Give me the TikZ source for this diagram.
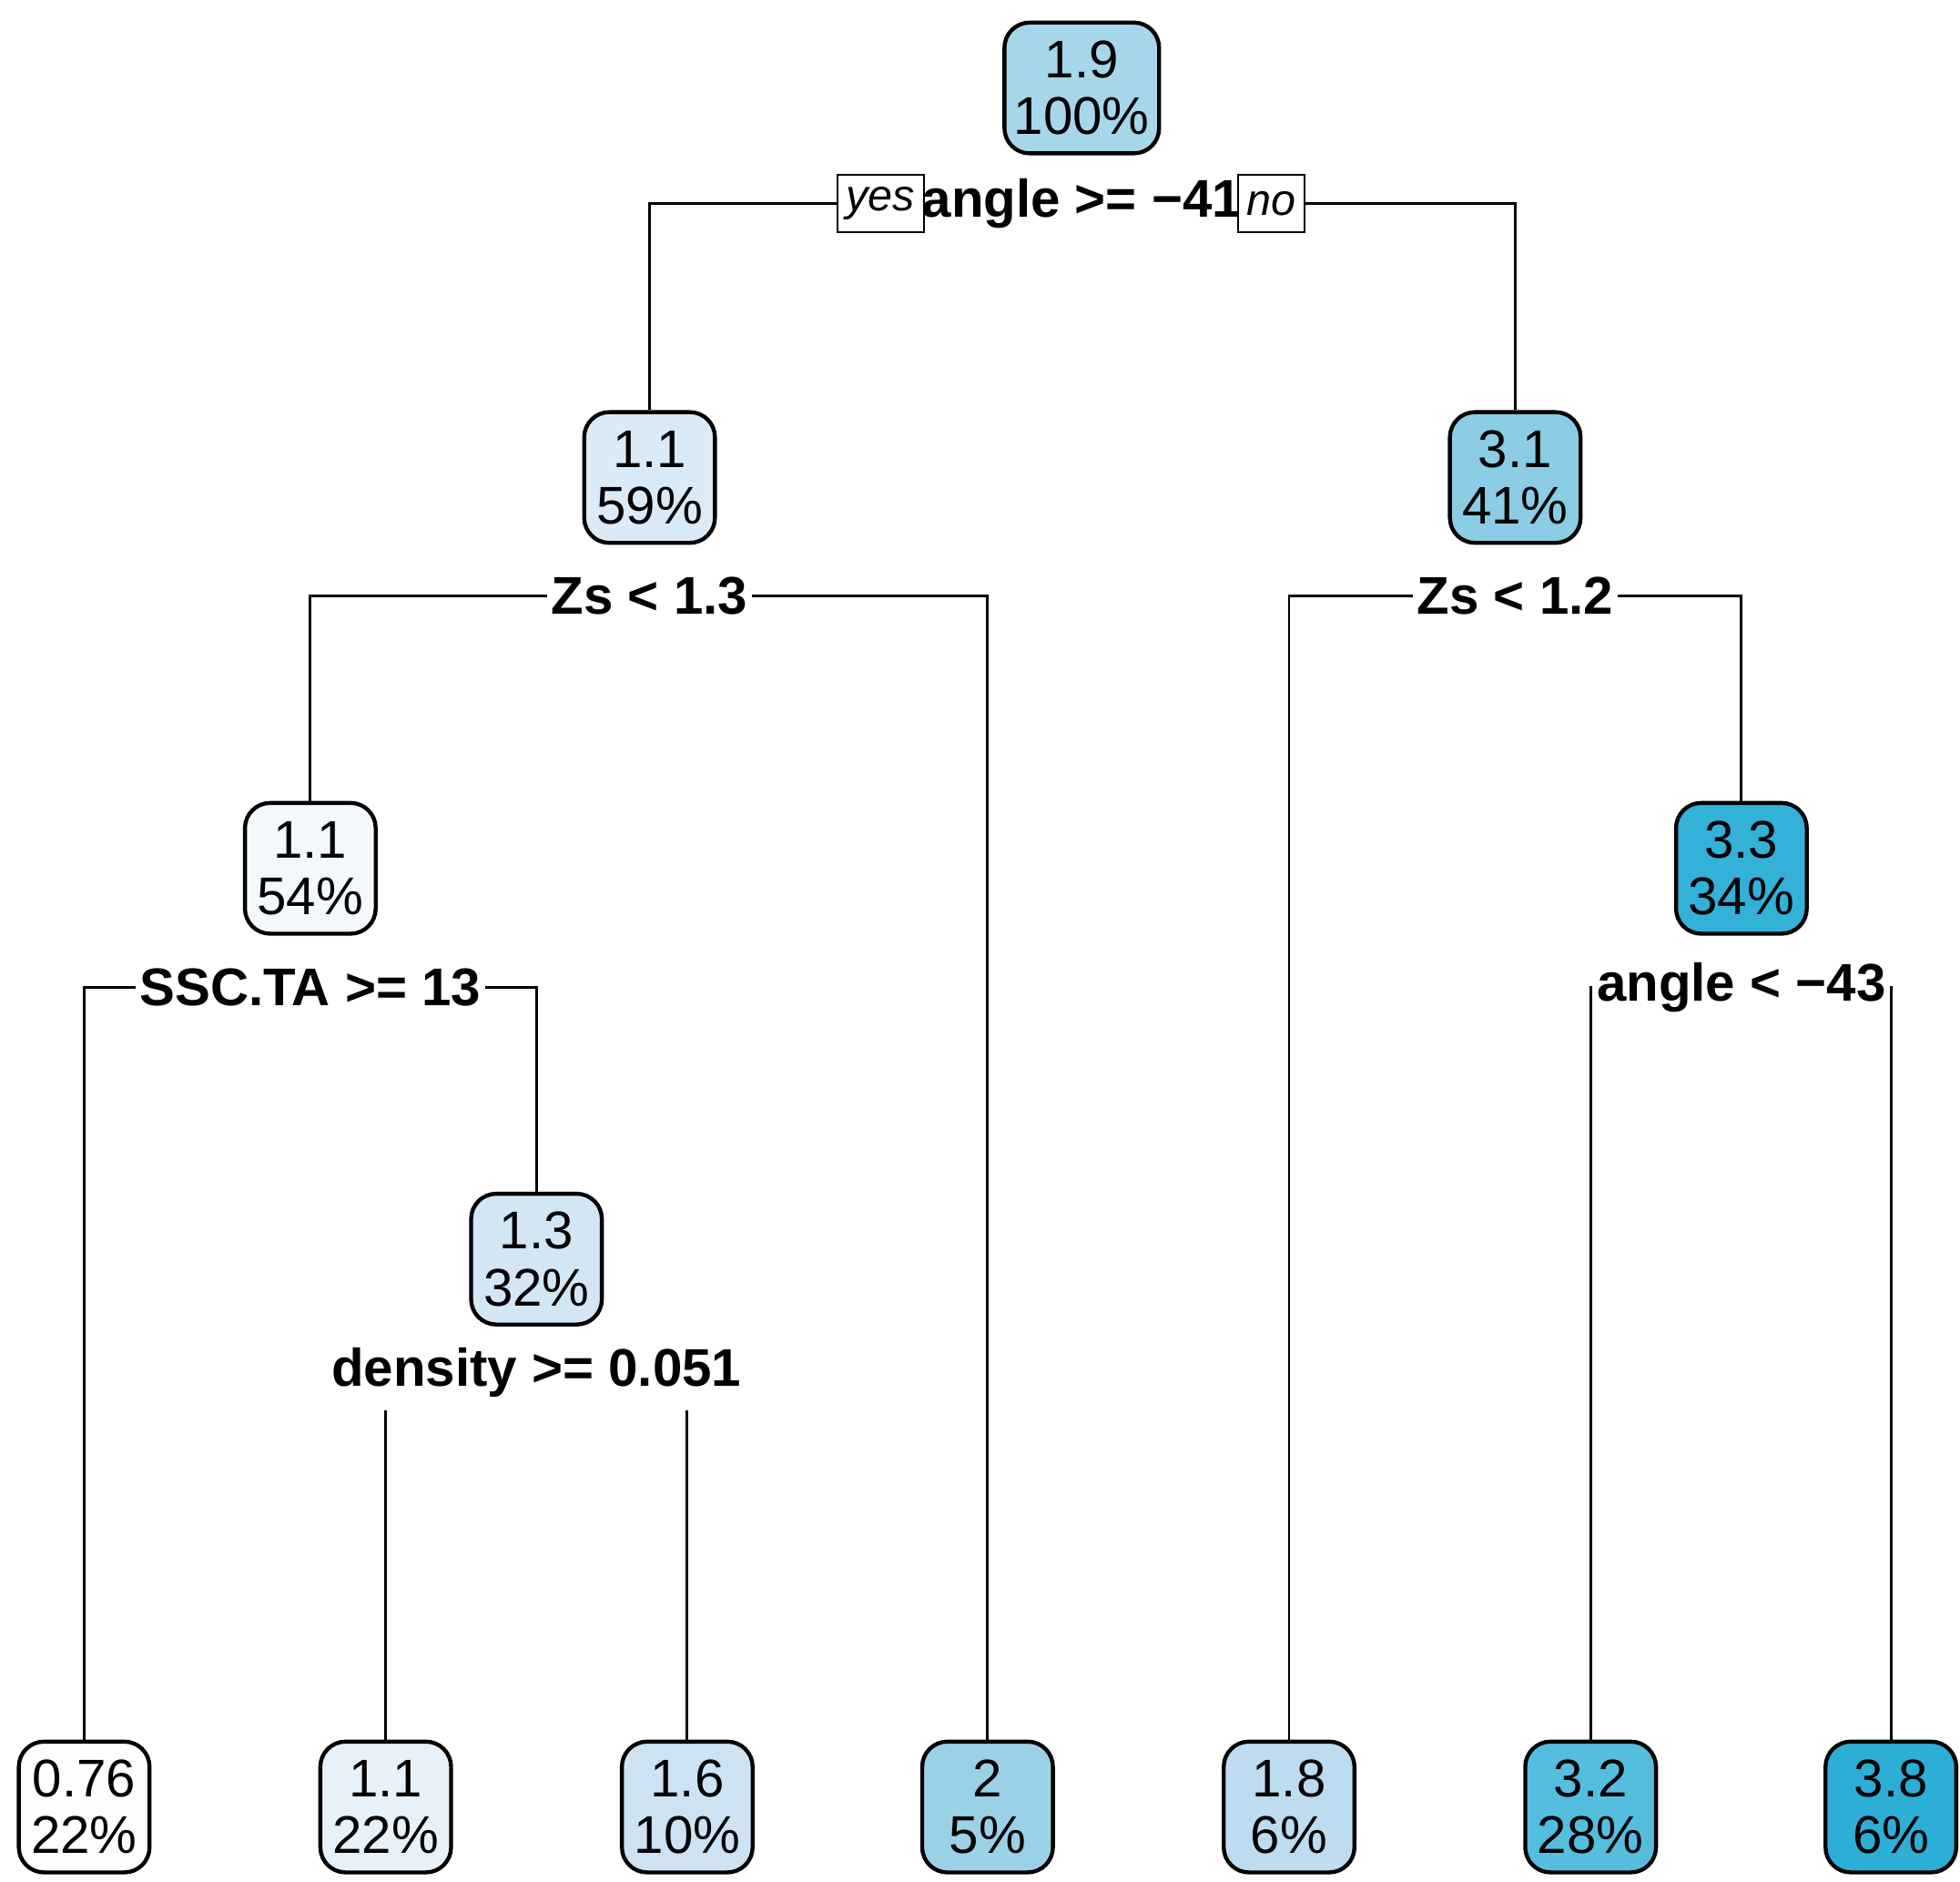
\documentclass[tikz,border=0pt]{standalone}
\usepackage{fontspec}
\setmainfont{Liberation Sans}
\definecolor{c0}{HTML}{A6D6EA}
\definecolor{c1}{HTML}{DAEAF6}
\definecolor{c2}{HTML}{8ACDE4}
\definecolor{c3}{HTML}{F3F8FD}
\definecolor{c4}{HTML}{33B1D8}
\definecolor{c5}{HTML}{D3E6F4}
\definecolor{l1}{HTML}{FBFDFE}
\definecolor{l2}{HTML}{E7F1FA}
\definecolor{l3}{HTML}{CDE3F3}
\definecolor{l4}{HTML}{9BD1E7}
\definecolor{l5}{HTML}{BEDCF0}
\definecolor{l6}{HTML}{55BEDF}
\definecolor{l7}{HTML}{2CAED6}
\begin{document}
\begin{tikzpicture}[x=0.01cm,y=-0.01cm,
  tnode/.style={draw,line width=0.9pt,rounded corners=0.2cm,minimum width=1.04cm,minimum height=1.04cm,align=center,inner sep=1pt,font=\fontsize{12}{12.8}\selectfont},
  split/.style={fill=white,inner sep=1pt,font=\fontsize{12}{14}\selectfont\bfseries},
  yn/.style={draw,fill=white,inner sep=2pt,minimum height=0.46cm,font=\fontsize{10}{12}\selectfont\itshape},
  edge/.style={line width=0.6pt}]
\useasboundingbox (0,0) rectangle (1560,1497);
\node[tnode,fill=c0,minimum width=1.23cm] (n1) at (861,70) {1.9\\100\%};
\node[tnode,fill=c1] (n2) at (517,380) {1.1\\59\%};
\node[tnode,fill=c2] (n3) at (1206,380) {3.1\\41\%};
\node[tnode,fill=c3] (n4) at (247,691) {1.1\\54\%};
\node[tnode,fill=c4] (n5) at (1386,691) {3.3\\34\%};
\node[tnode,fill=c5] (n6) at (427,1002) {1.3\\32\%};
\node[tnode,fill=l1] (a) at (67,1438) {0.76\\22\%};
\node[tnode,fill=l2] (b) at (307,1438) {1.1\\22\%};
\node[tnode,fill=l3] (c) at (547,1438) {1.6\\10\%};
\node[tnode,fill=l4] (d) at (786,1438) {2\\5\%};
\node[tnode,fill=l5] (e) at (1026,1438) {1.8\\6\%};
\node[tnode,fill=l6] (f) at (1266,1438) {3.2\\28\%};
\node[tnode,fill=l7] (g) at (1505,1438) {3.8\\6\%};
\coordinate (s1) at (861,162);
\coordinate (s2) at (517,474);
\coordinate (s3) at (1206,474);
\coordinate (s4) at (247,786);
\coordinate (s5) at (1386,786);
\coordinate (s6) at (427,1122);
\draw[edge] (n2.north) |- (s1) -| (n3.north);
\draw[edge] (a.north) |- (s4) -| (n6.north);
\draw[edge] (n4.north) |- (s2) -| (d.north);
\draw[edge] (e.north) |- (s3) -| (n5.north);
\draw[edge] (f.north) |- (s5) -| (g.north);
\draw[edge] (b.north) -- (b.north |- s6);
\draw[edge] (c.north) -- (c.north |- s6);
\node[split] (t1) at (s1) {angle >= −41};
\node[yn] (yes) at (701,162) {yes};
\node[yn] (no) at (1012,162) {no};
\node[split] (t2) at (s2) {Zs < 1.3};
\node[split] (t3) at (s3) {Zs < 1.2};
\node[split] (t4) at (s4) {SSC.TA >= 13};
\node[split] (t5) at (s5) {angle < −43};
\node[split] (t6) at (427,1092) {density >= 0.051};
\end{tikzpicture}
\end{document}
